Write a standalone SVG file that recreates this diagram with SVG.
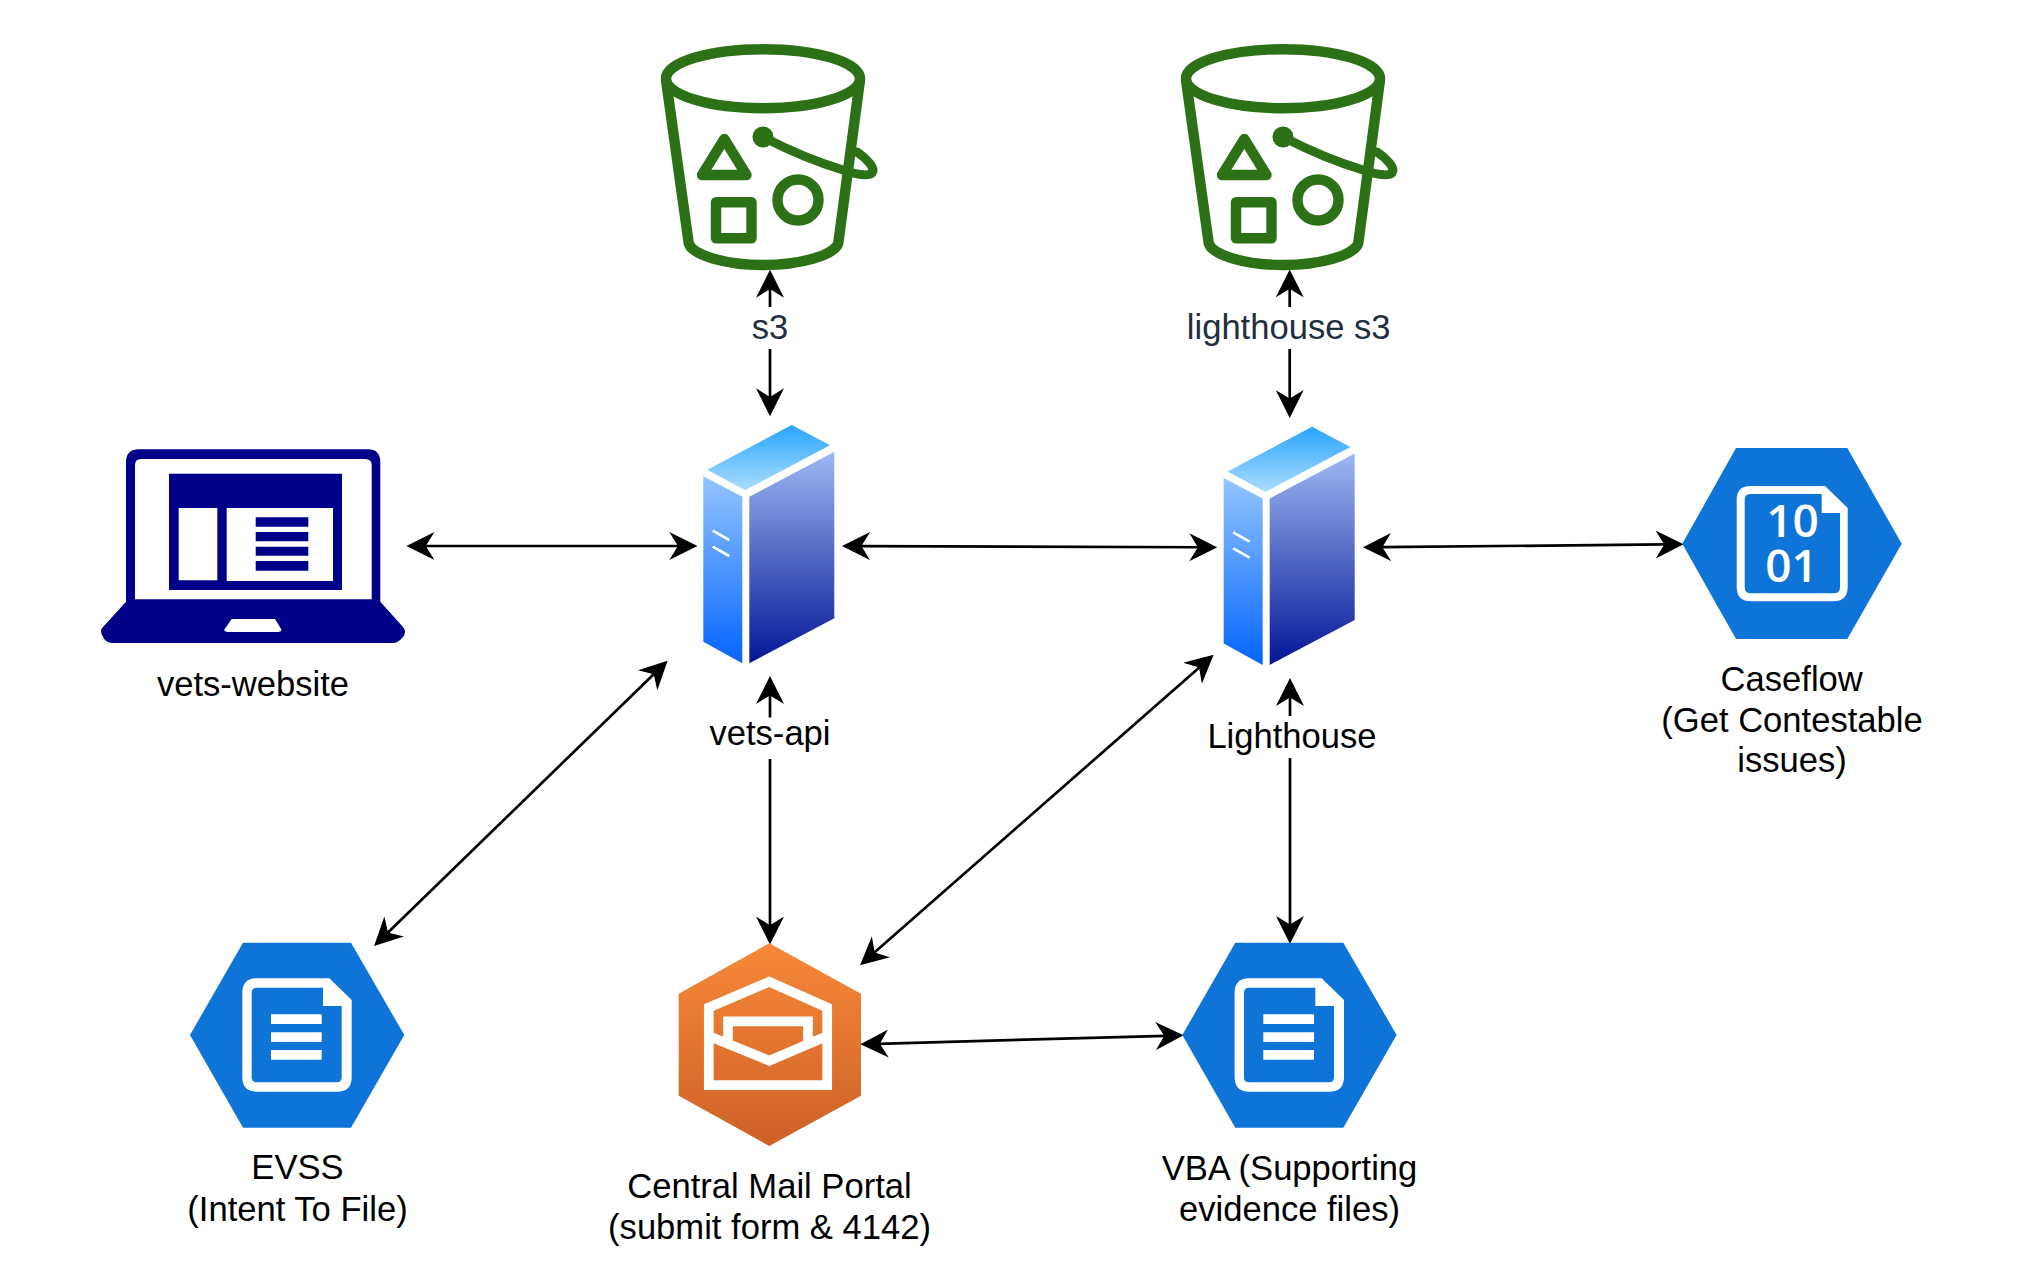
<svg xmlns="http://www.w3.org/2000/svg" xmlns:xlink="http://www.w3.org/1999/xlink" width="2024" height="1282" viewBox="0 0 2024 1282">
  <style>
    .lbl { font-family: "Liberation Sans", Arial, sans-serif; font-size: 34.6px; fill: #000; text-anchor: middle; }
    .dark { fill: #232F3E; }
    .bits { font-family: "Open Sans", "Liberation Sans", sans-serif; font-size: 46px; font-weight: 600; fill: #fff; text-anchor: middle; }
    .edge { fill: none; stroke: #000; stroke-width: 2.7; marker-start: url(#head); marker-end: url(#head); }
    .bk { fill: none; stroke: #2D7116; stroke-width: 10.4; stroke-linejoin: round; stroke-linecap: round; }
    .hex { fill: #0E74D8; }
  </style>
  <defs>
    <marker id="head" markerUnits="userSpaceOnUse" markerWidth="28" markerHeight="28" viewBox="0 0 26 26" refX="9" refY="13" orient="auto-start-reverse">
      <path d="M26,13 L0,0 L8,13 L0,26 Z" fill="#000"/>
    </marker>
    <linearGradient id="srvTop" x1="0" y1="0" x2="0" y2="1"><stop offset="0" stop-color="#29A4FD"/><stop offset="1" stop-color="#ABDEFF"/></linearGradient>
    <linearGradient id="srvLeft" x1="0" y1="0" x2="0" y2="1"><stop offset="0" stop-color="#93C5FF"/><stop offset="1" stop-color="#0565FF"/></linearGradient>
    <linearGradient id="srvRight" x1="0" y1="0" x2="0" y2="1"><stop offset="0" stop-color="#9DB8F2"/><stop offset="1" stop-color="#041696"/></linearGradient>
    <linearGradient id="orange" x1="0" y1="0" x2="0" y2="1"><stop offset="0" stop-color="#F78839"/><stop offset="1" stop-color="#CD6126"/></linearGradient>
    <g id="bucket">
      <ellipse class="bk" cx="763" cy="78.7" rx="97" ry="29.5"/>
      <path class="bk" d="M666,80 L688.7,243 C692,255 725,265 763,265 C801,265 835,255 838.3,243 L860,80"/>
      <path class="bk" d="M724.3,139 L746.5,175 H702 Z"/>
      <rect class="bk" x="716" y="202.3" width="35.5" height="36"/>
      <circle class="bk" cx="798" cy="200" r="20.5"/>
      <circle cx="763" cy="137" r="10.5" fill="#2D7116"/>
      <path class="bk" style="stroke-width:9" d="M763,137 C790,151 820,163 843,170 C855,174 868,177 872,173 C876,168 866,158 857,152"/>
    </g>
    <g id="server">
      <path d="M707.3,469.7 L791.7,425 L830,445.3 L745,490.3 Z" fill="url(#srvTop)"/>
      <path d="M703.3,476.3 L742.3,496.7 V663.3 L703.3,641.7 Z" fill="url(#srvLeft)"/>
      <path d="M749.3,496.7 L834.3,451.7 V618.3 L749.3,663.3 Z" fill="url(#srvRight)"/>
      <path d="M712.7,530.7 L729.3,540 M712.7,546.7 L729.3,556" stroke="#fff" stroke-width="2.6" fill="none"/>
    </g>
    <g id="docHex">
      <path class="hex" d="M190,1035 L243,942.7 H351 L404.3,1035 L351,1127.7 H243 Z"/>
      <path fill="#fff" d="M257,978.3 H329.3 L351.7,1000 V1077 Q351.7,1091.7 337,1091.7 H257 Q242.3,1091.7 242.3,1077 V993 Q242.3,978.3 257,978.3 Z"/>
      <path class="hex" d="M256.7,987.7 H323 V1006 H341.7 V1077.3 Q341.7,1082.3 336.7,1082.3 H256.7 Q251.7,1082.3 251.7,1077.3 V992.7 Q251.7,987.7 256.7,987.7 Z"/>
      <path fill="#fff" d="M271,1014.3 H321.7 V1024 H271 Z M271,1032.3 H321.7 V1042 H271 Z M271,1050 H321.7 V1059.7 H271 Z"/>
    </g>
  </defs>

  <rect width="2024" height="1282" fill="#fff"/>

  <g id="connectors">
    <path class="edge" d="M424.7,546 H679"/>
    <path class="edge" d="M860.3,546.06 L1199,547.24"/>
    <path class="edge" d="M1381.3,547.14 L1665.3,544.46"/>
    <path class="edge" d="M770,288 V398"/>
    <path class="edge" d="M1289.7,287.7 V399.7"/>
    <path class="edge" d="M770,694.3 V926.3"/>
    <path class="edge" d="M1290,696.3 V925.7"/>
    <path class="edge" d="M387.2,933.2 L654.5,673.5"/>
    <path class="edge" d="M873.8,953.1 L1199.9,666.9"/>
    <path class="edge" d="M878.7,1043.8 L1165.3,1035.8"/>
  </g>

  <g id="s3-bucket"><use href="#bucket"/></g>
  <g id="s3-label"><rect x="748" y="307" width="44" height="42" fill="#fff"/><text class="lbl dark" x="770" y="339">s3</text></g>

  <g id="lighthouse-s3-bucket"><use href="#bucket" transform="translate(520,0)"/></g>
  <g id="lighthouse-s3-label"><rect x="1184" y="307" width="210" height="42" fill="#fff"/><text class="lbl dark" x="1288.7" y="339">lighthouse s3</text></g>

  <g id="vets-website">
    <path fill="#000088" fill-rule="evenodd" d="M126,601.7 V462 Q126,449.3 139,449.3 H368 Q380.3,449.3 380.3,462 V601.7 L403,627 Q407,632 403,637 Q398,643 393,643 H113 Q106,643 103,637 Q99,630 103,627 Z M141,459 Q135,459 135,465 V599.3 H371.7 V465 Q371.7,459 365,459 Z M231.7,619 L224,630 Q225,632 228,632 H278 Q281,632 281.7,630 L275,619 Z"/>
    <path fill="#000088" d="M169,473.7 H342 V590 H169 Z"/>
    <path fill="#fff" d="M178.7,508 H217.3 V580.3 H178.7 Z M226.7,508 H333 V581 H226.7 Z"/>
    <path fill="#000088" d="M255.7,517.3 H308.3 V526.7 H255.7 Z M255.7,532 H308.3 V541.3 H255.7 Z M255.7,546.7 H308.3 V555.7 H255.7 Z M255.7,561 H308.3 V570.7 H255.7 Z"/>
    <text class="lbl" x="253" y="696">vets-website</text>
  </g>

  <g id="vets-api">
    <use href="#server"/>
    <rect x="705" y="717.5" width="130" height="41.5" fill="#fff"/>
    <text class="lbl" x="770" y="745">vets-api</text>
  </g>

  <g id="lighthouse">
    <use href="#server" transform="translate(520.4,1.7)"/>
    <rect x="1205" y="716" width="174" height="42" fill="#fff"/>
    <text class="lbl" x="1292" y="748.3">Lighthouse</text>
  </g>

  <g id="caseflow">
    <path class="hex" d="M1682.3,543.7 L1736,448 H1847.3 L1901.7,543.7 L1847.3,639 H1736 Z"/>
    <path fill="#fff" d="M1750,486 H1825 L1847.7,508 V587 Q1847.7,601.3 1833,601.3 H1751 Q1736.7,601.3 1736.7,587 V500 Q1736.7,486 1750,486 Z"/>
    <path class="hex" d="M1750,494 H1821.7 V513 H1840 V587.3 Q1840,593.3 1834,593.3 H1750.7 Q1744.7,593.3 1744.7,587.3 V500 Q1744.7,494 1750,494 Z"/>
    <text class="bits"><tspan x="1792.5" y="536.7">10</tspan><tspan x="1791.5" y="581.7">01</tspan></text>
    <text class="lbl" x="1791.7" y="690.7">Caseflow</text>
    <text class="lbl" x="1792" y="732">(Get Contestable</text>
    <text class="lbl" x="1792" y="772">issues)</text>
  </g>

  <g id="central-mail-portal">
    <path fill="url(#orange)" d="M769.3,943.3 L861,993.7 V1095.7 L769.3,1146 L678.7,1095.7 V993.7 Z"/>
    <path fill="none" stroke="#fff" stroke-width="9.7" stroke-linejoin="miter" d="M708.8,1085.2 V1007.5 L769.3,981.8 L827.2,1007.5 V1085.2 Z"/>
    <path fill="none" stroke="#fff" stroke-width="9.7" stroke-linejoin="miter" d="M708.8,1036 L769.3,1060.7 L827.2,1036"/>
    <path fill="none" stroke="#fff" stroke-width="9.7" stroke-linejoin="miter" d="M728,1044 V1021.3 H808 V1044"/>
    <text class="lbl" x="769.5" y="1197.8">Central Mail Portal</text>
    <text class="lbl" x="769.5" y="1239">(submit form &amp; 4142)</text>
  </g>

  <g id="evss">
    <use href="#docHex"/>
    <text class="lbl" x="297.5" y="1179.3">EVSS</text>
    <text class="lbl" x="297.5" y="1220.5">(Intent To File)</text>
  </g>

  <g id="vba">
    <use href="#docHex" transform="translate(992.3,0)"/>
    <text class="lbl" x="1289.5" y="1179.8">VBA (Supporting</text>
    <text class="lbl" x="1289.5" y="1220.8">evidence files)</text>
  </g>
</svg>
